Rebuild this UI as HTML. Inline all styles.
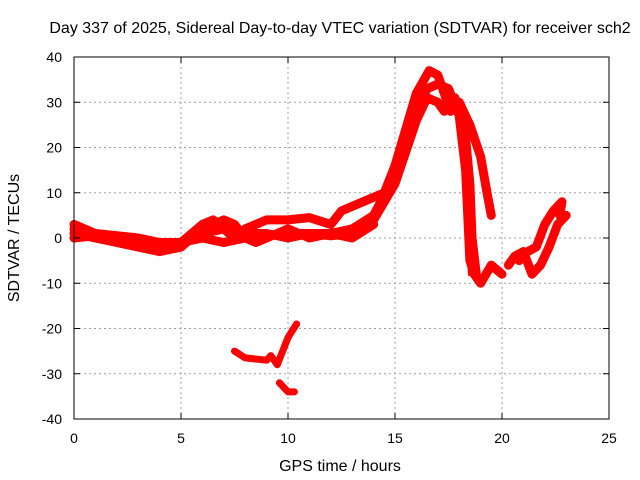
<!DOCTYPE html>
<html><head><meta charset="utf-8"><style>
body{margin:0;background:#fff}
svg{display:block;font-family:"Liberation Sans",sans-serif}
</style></head><body>
<svg id="chart" width="640" height="480">
<text x="340" y="33" text-anchor="middle" font-size="16">Day 337 of 2025, Sidereal Day-to-day VTEC variation (SDTVAR) for receiver sch2</text>
<g id="grid"></g>
<g id="series"></g>
<rect x="74" y="57" width="535" height="362" fill="none" stroke="#000" stroke-width="1"/>
<g id="ticks"></g>
<text x="340" y="471" text-anchor="middle" font-size="16">GPS time / hours</text>
<text transform="translate(19,238) rotate(-90)" text-anchor="middle" font-size="16">SDTVAR / TECUs</text>
</svg>
<script>
const xTicks=[0,5,10,15,20,25];
const yTicks=[-40,-30,-20,-10,0,10,20,30,40];
const trackA=[[0,2],[1,1],[2,0.5],[3,0],[4,-1],[5,-1],[6,0],[7,-1],[8,0],[9,0.5],[10,1],[11,1],[12,1],[13,2],[14,5],[15,14],[15.5,22],[16,28],[16.5,33],[17,34],[17.5,33],[18,27],[18.3,15],[18.5,-5],[18.7,-8],[19,-10],[19.5,-6],[20,-8]];
const trackB=[[0,3],[1,1],[2,0],[3,-1],[4,-2],[5,-1],[6,3],[6.5,4],[7,2],[7.5,0],[8,2],[8.5,3],[9,4],[10,4],[11,4.5],[12,3],[12.5,6],[13.5,8],[14.5,10],[15,16],[15.5,24],[16,32],[16.6,37],[17,36],[17.3,32],[17.6,28],[18,30],[18.5,25],[19,18],[19.3,10],[19.5,5]];
const trackC=[[0,1],[1,0],[2,-1],[3,-2],[4,-3],[5,-2],[5.5,0],[6,2],[7,4],[7.5,3],[8,0],[8.5,-1],[9,0],[10,2],[11,0],[12,1],[13,0],[14,3]];
const trackI=[[0,0],[1,0.5],[2,0],[3,-1],[4,-1.5],[5,-1],[6,1],[7,2],[8,1],[9,1],[10,0],[11,1],[12,0.5],[13,1],[14,4],[15,12],[16,26],[16.5,31],[17,30],[17.3,28],[17.8,31],[18.3,22],[18.5,12],[18.6,0],[18.8,-8]];
const trackD=[[20.3,-6],[20.6,-4],[21,-3],[21.4,-8],[21.8,-6],[22.2,-2],[22.6,3],[23,5]];
const trackE=[[20.8,-5],[21.2,-3],[21.6,-2],[22,3],[22.4,6],[22.8,8],[22.7,5]];
const trackF=[[7.5,-25],[8,-26.5],[9,-27],[9.2,-26],[9.5,-28],[10,-22],[10.4,-19]];
const trackG=[[9.6,-32],[10,-34],[10.3,-34]];
const trackH=[[18.3,20],[18.4,5],[18.5,-8]];
const X=t=>74+t*21.4, Y=v=>238-v*4.525;
const NS='http://www.w3.org/2000/svg';
const grid=document.getElementById('grid'),ticks=document.getElementById('ticks'),ser=document.getElementById('series');
function mk(tag,attrs,parent){const e=document.createElementNS(NS,tag);for(const k in attrs)e.setAttribute(k,attrs[k]);parent.appendChild(e);return e;}
xTicks.forEach(t=>{
 if(t>0&&t<25){const g=mk('line',{x1:X(t),x2:X(t),y1:57,y2:419,stroke:'#a0a0a0','stroke-dasharray':'2,3'},grid);
 
 }
 const l=mk('text',{x:X(t),y:443,'text-anchor':'middle','font-size':14},ticks);l.textContent=t;
 
 
 const a=mk('line',{x1:X(t),x2:X(t),y1:57,y2:63,stroke:'#000'},ticks);
 
 
 const b=mk('line',{x1:X(t),x2:X(t),y1:413,y2:419,stroke:'#000'},ticks);
 
 
});
yTicks.forEach(v=>{
 if(v>-40&&v<40){const g=mk('line',{x1:74,x2:609,y1:Y(v),y2:Y(v),stroke:'#a0a0a0','stroke-dasharray':'2,3'},grid);
 
 }
 const l=mk('text',{x:62,y:Y(v)+5,'text-anchor':'end','font-size':14},ticks);l.textContent=v;
 
 
 const a=mk('line',{x1:74,x2:80,y1:Y(v),y2:Y(v),stroke:'#000'},ticks);
 
 
 const b=mk('line',{x1:603,x2:609,y1:Y(v),y2:Y(v),stroke:'#000'},ticks);
 
 
});
[trackA,trackB,trackC,trackI,trackD,trackE,trackF,trackG,trackH].forEach((tr,i)=>{
 const p=mk('polyline',{points:tr.map(d=>X(d[0])+','+Y(d[1])).join(' '),fill:'none',stroke:'#ff0000','stroke-width':i==8?4:(i>=6?7:9),'stroke-linejoin':'round','stroke-linecap':'round'},ser);
 
 
});
</script>
</body></html>
